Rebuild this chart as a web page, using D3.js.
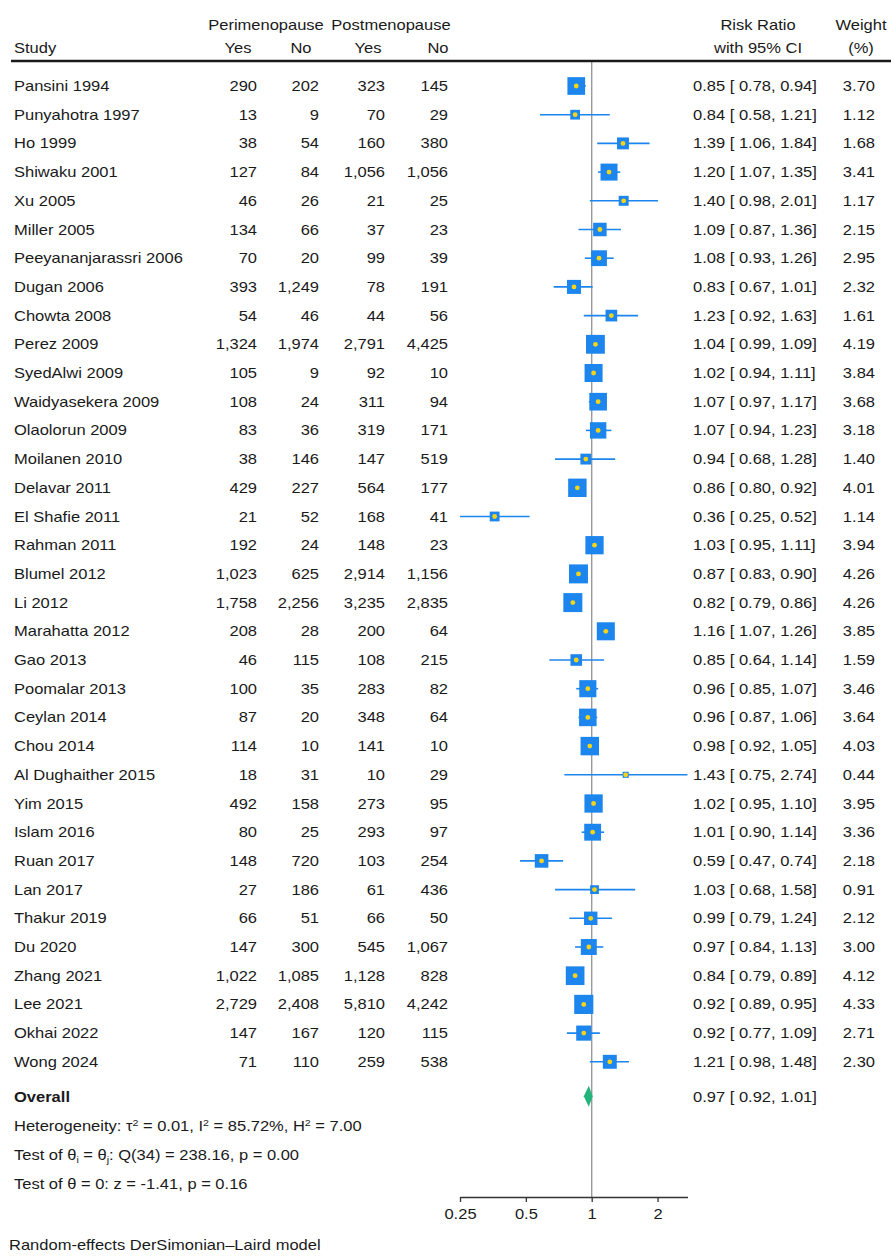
<!DOCTYPE html>
<html>
<head>
<meta charset="utf-8">
<script src="https://cdn.jsdelivr.net/npm/d3@7"></script>
<style>
  html, body { margin: 0; padding: 0; background: #fff; }
  svg { display: block; }
  text { font-family: "Liberation Sans", Arial, Helvetica, sans-serif; font-size: 14px; fill: #1a1a1a; }
</style>
</head>
<body>
<div id="chart"></div>
<script>
// Meta-analysis: symptom prevalence, perimenopause vs postmenopause (risk ratios)
const studies = [
  "Pansini 1994", "Punyahotra 1997", "Ho 1999", "Shiwaku 2001", "Xu 2005",
  "Miller 2005", "Peeyananjarassri 2006", "Dugan 2006", "Chowta 2008", "Perez 2009",
  "SyedAlwi 2009", "Waidyasekera 2009", "Olaolorun 2009", "Moilanen 2010", "Delavar 2011",
  "El Shafie 2011", "Rahman 2011", "Blumel 2012", "Li 2012", "Marahatta 2012",
  "Gao 2013", "Poomalar 2013", "Ceylan 2014", "Chou 2014", "Al Dughaither 2015",
  "Yim 2015", "Islam 2016", "Ruan 2017", "Lan 2017", "Thakur 2019",
  "Du 2020", "Zhang 2021", "Lee 2021", "Okhai 2022", "Wong 2024"
];
const periYes = [290, 13, 38, 127, 46, 134, 70, 393, 54, 1324, 105, 108, 83, 38, 429, 21, 192, 1023, 1758, 208, 46, 100, 87, 114, 18, 492, 80, 148, 27, 66, 147, 1022, 2729, 147, 71];
const periNo  = [202, 9, 54, 84, 26, 66, 20, 1249, 46, 1974, 9, 24, 36, 146, 227, 52, 24, 625, 2256, 28, 115, 35, 20, 10, 31, 158, 25, 720, 186, 51, 300, 1085, 2408, 167, 110];
const postYes = [323, 70, 160, 1056, 21, 37, 99, 78, 44, 2791, 92, 311, 319, 147, 564, 168, 148, 2914, 3235, 200, 108, 283, 348, 141, 10, 273, 293, 103, 61, 66, 545, 1128, 5810, 120, 259];
const postNo  = [145, 29, 380, 1056, 25, 23, 39, 191, 56, 4425, 10, 94, 171, 519, 177, 41, 23, 1156, 2835, 64, 215, 82, 64, 10, 29, 95, 97, 254, 436, 50, 1067, 828, 4242, 115, 538];
const riskRatio = [0.85, 0.84, 1.39, 1.20, 1.40, 1.09, 1.08, 0.83, 1.23, 1.04, 1.02, 1.07, 1.07, 0.94, 0.86, 0.36, 1.03, 0.87, 0.82, 1.16, 0.85, 0.96, 0.96, 0.98, 1.43, 1.02, 1.01, 0.59, 1.03, 0.99, 0.97, 0.84, 0.92, 0.92, 1.21];
const ciLow   = [0.78, 0.58, 1.06, 1.07, 0.98, 0.87, 0.93, 0.67, 0.92, 0.99, 0.94, 0.97, 0.94, 0.68, 0.80, 0.25, 0.95, 0.83, 0.79, 1.07, 0.64, 0.85, 0.87, 0.92, 0.75, 0.95, 0.90, 0.47, 0.68, 0.79, 0.84, 0.79, 0.89, 0.77, 0.98];
const ciHigh  = [0.94, 1.21, 1.84, 1.35, 2.01, 1.36, 1.26, 1.01, 1.63, 1.09, 1.11, 1.17, 1.23, 1.28, 0.92, 0.52, 1.11, 0.90, 0.86, 1.26, 1.14, 1.07, 1.06, 1.05, 2.74, 1.10, 1.14, 0.74, 1.58, 1.24, 1.13, 0.89, 0.95, 1.09, 1.48];
const weights = [3.70, 1.12, 1.68, 3.41, 1.17, 2.15, 2.95, 2.32, 1.61, 4.19, 3.84, 3.68, 3.18, 1.40, 4.01, 1.14, 3.94, 4.26, 4.26, 3.85, 1.59, 3.46, 3.64, 4.03, 0.44, 3.95, 3.36, 2.18, 0.91, 2.12, 3.00, 4.12, 4.33, 2.71, 2.30];

const overall = { rr: 0.97, lo: 0.92, hi: 1.01 };
const axisTicks = [0.25, 0.5, 1, 2];
const statLines = [
  [["Heterogeneity: τ", 0], ["2", 1], [" = 0.01, I", 0], ["2", 1], [" = 85.72%, H", 0], ["2", 1], [" = 7.00", 0]],
  [["Test of θ", 0], ["i", -1], [" = θ", 0], ["j", -1], [": Q(34) = 238.16, p = 0.00", 0]],
  [["Test of θ = 0: z = -1.41, p = 0.16", 0]]
];
const footnote = "Random-effects DerSimonian–Laird model";

const W = 891, H = 1256;
const SX = 1.18;                 // horizontal glyph stretch of the table typeface
const rowTop = 91, rowStep = 28.7;

const svg = d3.select("#chart").append("svg").attr("width", W).attr("height", H);

function label(g, x, y, s, anchor = "start") {
  return g.append("text")
    .attr("transform", `translate(${x},${y}) scale(${SX},1)`)
    .attr("text-anchor", anchor)
    .text(s);
}

const fmtN = d3.format(",");
const f2 = d3.format(".2f");
const ciText = (r, l, h) => `${f2(r)} [ ${f2(l)}, ${f2(h)}]`;

// log2 scale for the effect sizes
const x = d3.scaleLog().base(2)
  .domain([0.25, d3.max(ciHigh)])
  .range([460, 460 + 65.85 * Math.log2(d3.max(ciHigh) / 0.25)]);

const rowY = d3.scaleLinear().domain([0, 1]).range([rowTop, rowTop + rowStep]);
const axisY = 1197;
const overallY = 1101.7;

// header
const hd = svg.append("g");
label(hd, 266, 29.5, "Perimenopause", "middle");
label(hd, 391, 29.5, "Postmenopause", "middle");
label(hd, 758, 29.5, "Risk Ratio", "middle");
label(hd, 861, 29.5, "Weight", "middle");
label(hd, 14, 52.5, "Study", "start");
label(hd, 238, 52.5, "Yes", "middle");
label(hd, 301, 52.5, "No", "middle");
label(hd, 368, 52.5, "Yes", "middle");
label(hd, 438, 52.5, "No", "middle");
label(hd, 758, 52.5, "with 95% CI", "middle");
label(hd, 861, 52.5, "(%)", "middle");

// null line at RR = 1
svg.append("line")
  .attr("x1", x(1)).attr("x2", x(1))
  .attr("y1", 61).attr("y2", axisY)
  .attr("stroke", "#9a9a9a").attr("stroke-width", 1.4);

svg.append("line")
  .attr("x1", 11).attr("x2", W).attr("y1", 61).attr("y2", 61)
  .attr("stroke", "#1a1a1a").attr("stroke-width", 2.4);

// table columns
const tbl = svg.append("g");
studies.forEach((s, i) => {
  const y = rowY(i);
  label(tbl, 14, y, s, "start");
  label(tbl, 257, y, fmtN(periYes[i]), "end");
  label(tbl, 319, y, fmtN(periNo[i]), "end");
  label(tbl, 385, y, fmtN(postYes[i]), "end");
  label(tbl, 448, y, fmtN(postNo[i]), "end");
  label(tbl, 693, y, ciText(riskRatio[i], ciLow[i], ciHigh[i]), "start");
  label(tbl, 875, y, f2(weights[i]), "end");
});

// study markers: CI whisker, weight-sized square, point estimate dot
const blue = "#1c86ee";
const mk = svg.append("g");
const sideK = 9.2;
const rows = studies.map((s, i) => ({ i, rr: riskRatio[i], lo: ciLow[i], hi: ciHigh[i], w: weights[i] }));
mk.selectAll("line.ci").data(rows).join("line")
  .attr("class", "ci")
  .attr("x1", d => x(d.lo)).attr("x2", d => x(d.hi))
  .attr("y1", d => rowY(d.i) - 5).attr("y2", d => rowY(d.i) - 5)
  .attr("stroke", blue).attr("stroke-width", 1.6);
mk.selectAll("rect").data(rows).join("rect")
  .attr("x", d => x(d.rr) - sideK * Math.sqrt(d.w) / 2)
  .attr("y", d => rowY(d.i) - 5 - sideK * Math.sqrt(d.w) / 2)
  .attr("width", d => sideK * Math.sqrt(d.w))
  .attr("height", d => sideK * Math.sqrt(d.w))
  .attr("fill", blue);
mk.selectAll("circle").data(rows).join("circle")
  .attr("cx", d => x(d.rr)).attr("cy", d => rowY(d.i) - 5)
  .attr("r", 2.4).attr("fill", "#f7d417");

// pooled estimate
label(svg, 14, overallY, "Overall", "start").style("font-weight", "bold");
label(svg, 693, overallY, ciText(overall.rr, overall.lo, overall.hi), "start");
const dy = overallY - 5.5;
svg.append("path")
  .attr("d", `M${x(overall.lo)},${dy} L${x(overall.rr)},${dy - 10.5} L${x(overall.hi)},${dy} L${x(overall.rr)},${dy + 10.5} Z`)
  .attr("fill", "#21b57c");

// heterogeneity and tests
statLines.forEach((parts, k) => {
  const t = svg.append("text")
    .attr("transform", `translate(14,${overallY + 29.2 * (k + 1)}) scale(${SX},1)`);
  parts.forEach(([s, pos]) => {
    const ts = t.append("tspan").text(s);
    if (pos === 1) ts.attr("baseline-shift", "5").style("font-size", "9px");
    if (pos === -1) ts.attr("baseline-shift", "-3").style("font-size", "9px");
  });
});

// axis
const ax = svg.append("g")
  .attr("transform", `translate(0,${axisY})`)
  .call(d3.axisBottom(x).tickValues(axisTicks).tickFormat(d => String(d)).tickSize(5).tickSizeOuter(0));
ax.select(".domain").attr("stroke", "#333").attr("stroke-width", 1.3);
ax.selectAll(".tick line").attr("stroke", "#333").attr("stroke-width", 1.3);
ax.selectAll(".tick text")
  .attr("y", 0).attr("dy", null)
  .attr("transform", `translate(0,22) scale(${SX},1)`)
  .style("font-size", "14px").style("font-family", "'Liberation Sans', Arial, sans-serif")
  .attr("fill", "#1a1a1a");

label(svg, 9, 1250, footnote, "start");
</script>
</body>
</html>
